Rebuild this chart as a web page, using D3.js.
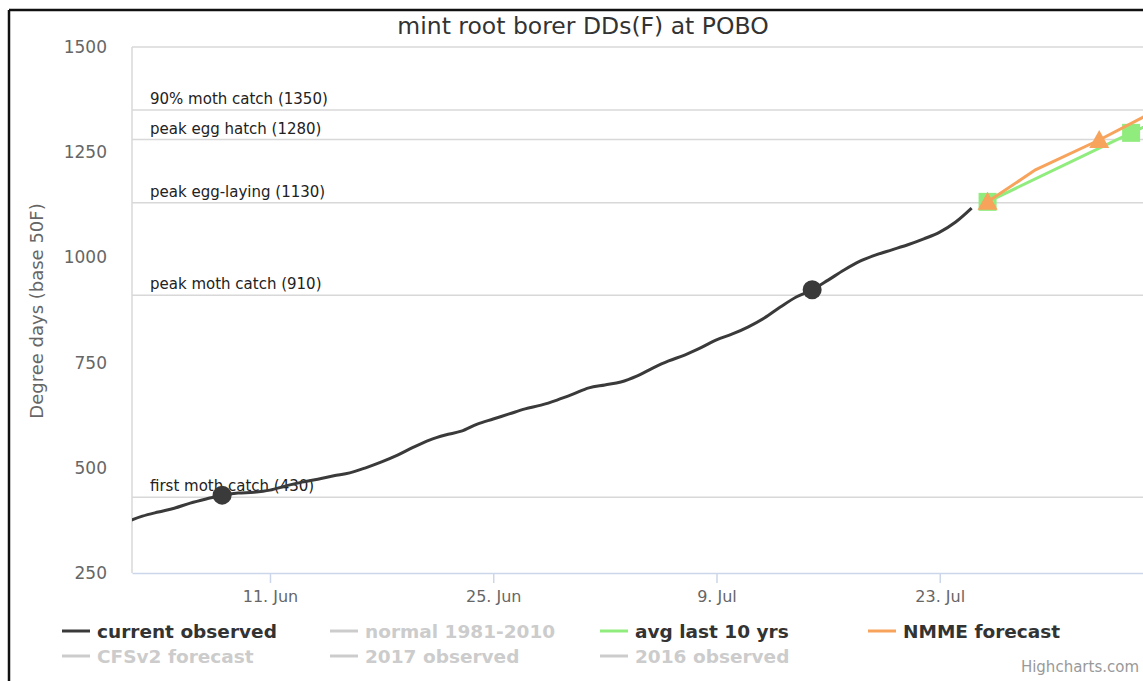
<!DOCTYPE html>
<html>
<head>
<meta charset="utf-8">
<script src="https://cdn.jsdelivr.net/npm/d3@7"></script>
<style>
  body { margin: 0; background: #fff; }
  svg { display: block; font-family: "DejaVu Sans", "Lucida Grande", sans-serif; }
</style>
</head>
<body>
<svg class="plot" width="1143" height="681"></svg>
<script>
// observed degree days, daily from 2 Jun to 25 Jul 2018
var obsStart = Date.UTC(2018, 5, 2);
var observed = [371, 385, 395, 404, 416, 426, 435, 440, 442, 447,
                457, 466, 473, 481, 488, 500, 514, 530, 549, 566,
                578, 587, 604, 616, 628, 640, 649, 661, 675, 690,
                697, 704, 718, 737, 754, 768, 785, 804, 818, 835,
                856, 882, 906, 923, 946, 970, 991, 1006, 1018, 1030,
                1044, 1060, 1084, 1117];
var eventDays = [6, 43];   // index into observed where events were hit

// forecasts: [month, day, value]
var avg10 = [[6, 26, 1132], [7, 4, 1296], [7, 11, 1420]];
var avg10Markers = [0, 1, 2];
var nmme = [[6, 26, 1132], [6, 29, 1208], [7, 2, 1279], [7, 5, 1338], [7, 9, 1420]];
var nmmeMarkers = [0, 2];

// degree-day thresholds
var plotLines = [
  {label: "90% moth catch (1350)", value: 1350},
  {label: "peak egg hatch (1280)", value: 1280},
  {label: "peak egg-laying (1130)", value: 1130},
  {label: "peak moth catch (910)", value: 910},
  {label: "first moth catch (430)", value: 430}
];

var yTicks = [250, 500, 750, 1000, 1250, 1500];
var xTicks = [[5, 11], [5, 25], [6, 9], [6, 23]];

var legendItems = [
  {name: "current observed", color: "#3a3a3a", on: true},
  {name: "normal 1981-2010", color: "#ccc", on: false},
  {name: "avg last 10 yrs", color: "#90ed7d", on: true},
  {name: "NMME forecast", color: "#f7a35c", on: true},
  {name: "CFSv2 forecast", color: "#ccc", on: false},
  {name: "2017 observed", color: "#ccc", on: false},
  {name: "2016 observed", color: "#ccc", on: false}
];

var svg = d3.select(".plot"),
    margin = {top: 47, left: 132, bottom: 573, right: 1163};

var day = 864e5;
var x = d3.scaleUtc()
    .domain([new Date(Date.UTC(2018, 5, 11) - 8.652 * day), new Date(Date.UTC(2018, 7, 6))])
    .range([margin.left, margin.right]);
var y = d3.scaleLinear().domain([250, 1500]).range([margin.bottom, margin.top]);

function dt(m, d) { return new Date(Date.UTC(2018, m, d)); }

svg.append("defs").append("clipPath").attr("id", "clip")
  .append("rect")
    .attr("x", margin.left).attr("y", 0)
    .attr("width", margin.right - margin.left).attr("height", margin.bottom + 10);

// frame of the screenshot
svg.append("line").attr("x1", 9).attr("x2", 1143).attr("y1", 10).attr("y2", 10)
    .attr("stroke", "#111").attr("stroke-width", 2.5);
svg.append("line").attr("x1", 9).attr("x2", 9).attr("y1", 10).attr("y2", 681)
    .attr("stroke", "#111").attr("stroke-width", 2.5);

// title
svg.append("text")
    .attr("x", 583).attr("y", 34)
    .attr("text-anchor", "middle")
    .style("font-size", "23.5px")
    .style("fill", "#333")
    .text("mint root borer DDs(F) at POBO");

// plot borders
svg.append("line").attr("x1", margin.left).attr("x2", margin.right)
    .attr("y1", y(1500)).attr("y2", y(1500))
    .attr("stroke", "#d8d8d8").attr("stroke-width", 1.5);
svg.append("line").attr("x1", margin.left).attr("x2", margin.left)
    .attr("y1", margin.top).attr("y2", margin.bottom)
    .attr("stroke", "#d8d8d8").attr("stroke-width", 1.5);

// plot lines with labels
var pl = svg.append("g");
pl.selectAll("line").data(plotLines).enter().append("line")
    .attr("x1", margin.left).attr("x2", margin.right)
    .attr("y1", function(d) { return y(d.value); })
    .attr("y2", function(d) { return y(d.value); })
    .attr("stroke", "#d8d8d8").attr("stroke-width", 1.5);
pl.selectAll("text").data(plotLines).enter().append("text")
    .attr("x", 150)
    .attr("y", function(d) { return y(d.value) - 6; })
    .style("font-size", "15px")
    .style("fill", "#222")
    .text(function(d) { return d.label; });

// y axis
svg.append("g")
    .attr("transform", "translate(" + margin.left + ",0)")
    .call(d3.axisLeft(y).tickValues(yTicks).tickFormat(d3.format("d")).tickSize(0).tickPadding(25))
    .call(function(g) { g.select(".domain").remove(); })
    .selectAll("text")
    .style("font-size", "17px")
    .style("fill", "#666")
    .style("font-family", "DejaVu Sans, sans-serif");

svg.append("text")
    .attr("transform", "translate(43," + 311 + ")rotate(-90)")
    .attr("text-anchor", "middle")
    .style("font-size", "18px")
    .style("fill", "#666")
    .text("Degree days (base 50F)");

// x axis
var xa = svg.append("g")
    .attr("transform", "translate(0," + margin.bottom + ")")
    .call(d3.axisBottom(x)
        .tickValues(xTicks.map(function(t) { return dt(t[0], t[1]); }))
        .tickFormat(d3.utcFormat("%-d. %b"))
        .tickSize(10).tickSizeOuter(0).tickPadding(8));
xa.select(".domain").attr("stroke", "#ccd6eb").attr("stroke-width", 1.5);
xa.selectAll(".tick line").attr("stroke", "#ccd6eb").attr("stroke-width", 1.5);
xa.selectAll("text")
    .style("font-size", "16px")
    .style("fill", "#666")
    .style("font-family", "DejaVu Sans, sans-serif");

// series
var series = svg.append("g").attr("clip-path", "url(#clip)");
var line = d3.line()
    .x(function(d) { return x(d[0]); })
    .y(function(d) { return y(d[1]); })
    .curve(d3.curveMonotoneX);

var obsData = observed.map(function(v, i) { return [new Date(obsStart + i * day), v]; });
var avgData = avg10.map(function(p) { return [dt(p[0], p[1]), p[2]]; });
var nmmeData = nmme.map(function(p) { return [dt(p[0], p[1]), p[2]]; });

series.append("path").datum(obsData)
    .attr("d", line).attr("fill", "none")
    .attr("stroke", "#3a3a3a").attr("stroke-width", 3);

series.selectAll(".event").data(eventDays).enter().append("circle")
    .attr("cx", function(i) { return x(obsData[i][0]); })
    .attr("cy", function(i) { return y(obsData[i][1]); })
    .attr("r", 9.5)
    .attr("fill", "#3a3a3a");

series.append("path").datum(avgData)
    .attr("d", d3.line().x(function(d) { return x(d[0]); }).y(function(d) { return y(d[1]); }))
    .attr("fill", "none").attr("stroke", "#90ed7d").attr("stroke-width", 3);

series.selectAll(".sq").data(avg10Markers).enter().append("rect")
    .attr("x", function(i) { return x(avgData[i][0]) - 9; })
    .attr("y", function(i) { return y(avgData[i][1]) - 9; })
    .attr("width", 18).attr("height", 18)
    .attr("fill", "#90ed7d");

series.append("path").datum(nmmeData)
    .attr("d", d3.line().x(function(d) { return x(d[0]); }).y(function(d) { return y(d[1]); }))
    .attr("fill", "none").attr("stroke", "#f7a35c").attr("stroke-width", 3);

series.selectAll(".tri").data(nmmeMarkers).enter().append("path")
    .attr("transform", function(i) {
      return "translate(" + x(nmmeData[i][0]) + "," + y(nmmeData[i][1]) + ")";
    })
    .attr("d", "M0,-10L10,8L-10,8Z")
    .attr("fill", "#f7a35c");

// legend
var colX = [62, 330, 600, 868];
var legend = svg.append("g");
var items = legend.selectAll("g").data(legendItems).enter().append("g")
    .attr("transform", function(d, i) {
      var row = i < 4 ? 0 : 1, col = i < 4 ? i : i - 4;
      return "translate(" + colX[col] + "," + (631 + row * 25) + ")";
    });
items.append("line")
    .attr("x1", 0).attr("x2", 28).attr("y1", 0).attr("y2", 0)
    .attr("stroke", function(d) { return d.color; })
    .attr("stroke-width", 3);
items.append("text")
    .attr("x", 35).attr("y", 6.5)
    .style("font-size", "18.5px")
    .style("font-weight", "bold")
    .style("fill", function(d) { return d.on ? "#333" : "#ccc"; })
    .text(function(d) { return d.name; });

svg.append("text")
    .attr("x", 1139).attr("y", 672)
    .attr("text-anchor", "end")
    .style("font-size", "15px")
    .style("fill", "#999")
    .text("Highcharts.com");
</script>
</body>
</html>
